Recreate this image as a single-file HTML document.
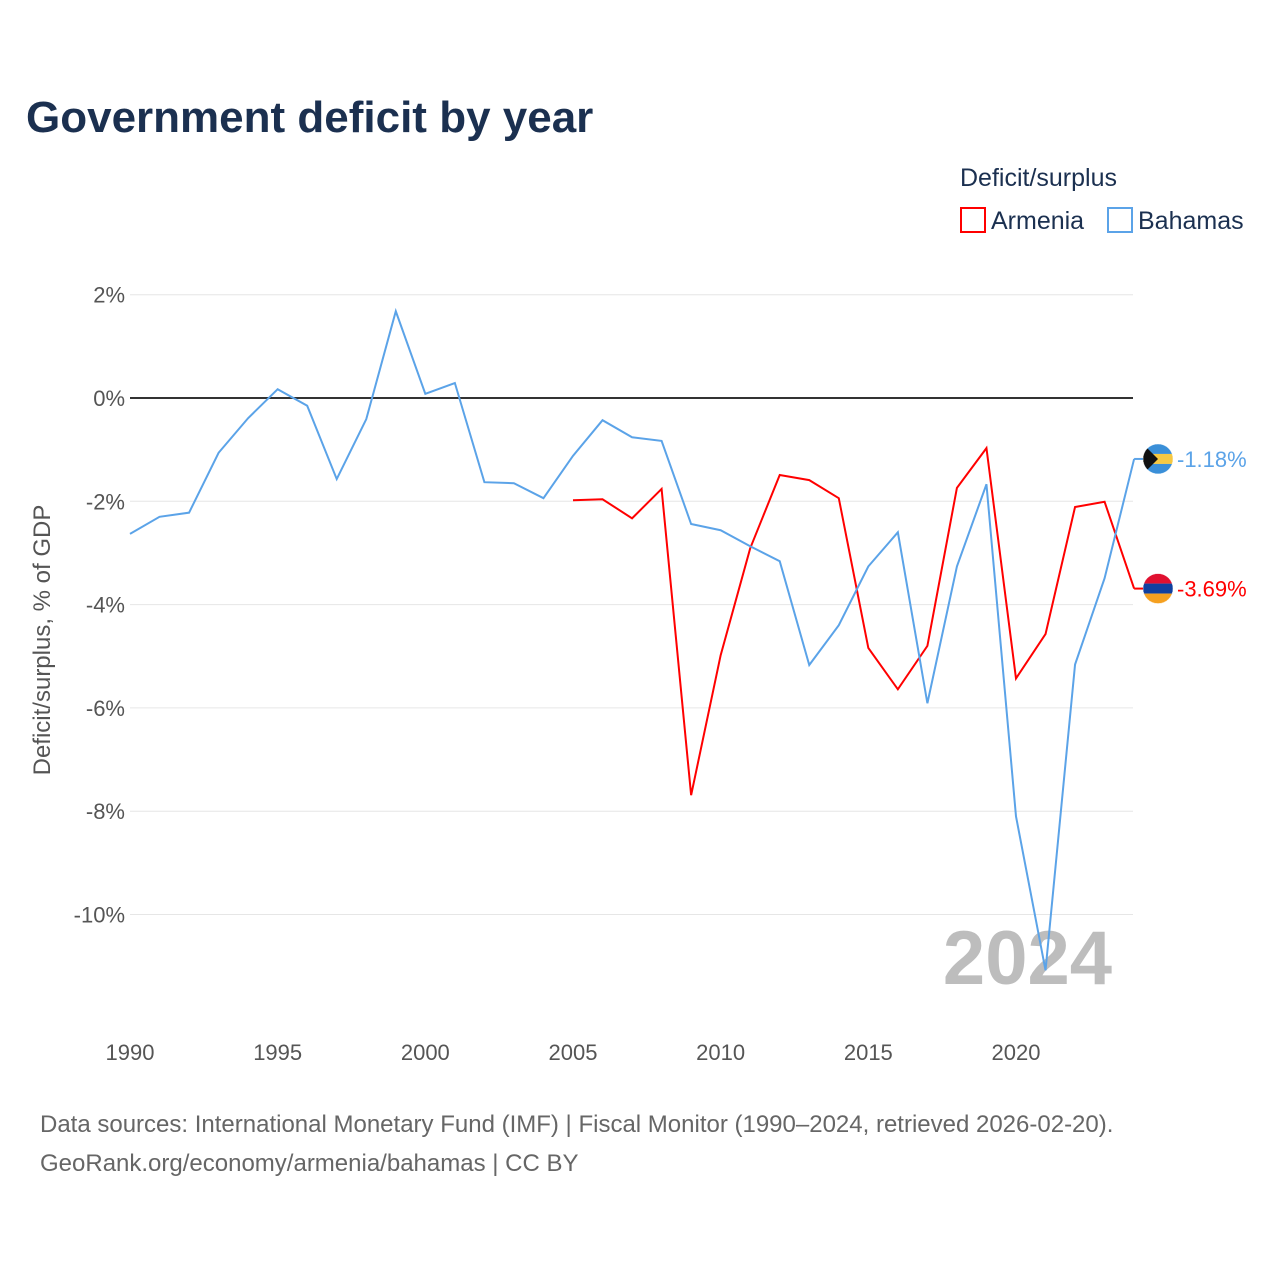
<!DOCTYPE html>
<html><head><meta charset="utf-8">
<style>
body{margin:0;background:#fff;font-family:"Liberation Sans",sans-serif;}
svg text{font-family:"Liberation Sans",sans-serif;}
</style></head>
<body>
<svg id="chart" width="1280" height="1280" viewBox="0 0 1280 1280" xmlns="http://www.w3.org/2000/svg">
<rect width="1280" height="1280" fill="#fff"/>
<text x="26" y="132" font-size="44" font-weight="bold" fill="#1b3050">Government deficit by year</text>
<text x="960" y="186" font-size="25" fill="#1b3050">Deficit/surplus</text>
<g>
<rect x="961" y="208" width="24" height="24" fill="none" stroke="#ff0000" stroke-width="2"/>
<text x="991" y="229" font-size="25" fill="#1b3050">Armenia</text></g>
<g>
<rect x="1108" y="208" width="24" height="24" fill="none" stroke="#5ba3e8" stroke-width="2"/>
<text x="1138" y="229" font-size="25" fill="#1b3050">Bahamas</text></g>
<g id="grid"></g>
<text transform="translate(50,640) rotate(-90)" text-anchor="middle" font-size="24" fill="#555">Deficit/surplus, % of GDP</text>
<text x="1112" y="984" text-anchor="end" font-size="76" font-weight="bold" fill="#bdbdbd">2024</text>
<g id="series"></g>
<text x="40" y="1132" font-size="24" fill="#666">Data sources: International Monetary Fund (IMF) | Fiscal Monitor (1990–2024, retrieved 2026-02-20).</text>
<text x="40" y="1171" font-size="24" fill="#666">GeoRank.org/economy/armenia/bahamas | CC BY</text>
</svg>
<script>
const bahamasYears=[1990,1991,1992,1993,1994,1995,1996,1997,1998,1999,2000,2001,2002,2003,2004,2005,2006,2007,2008,2009,2010,2011,2012,2013,2014,2015,2016,2017,2018,2019,2020,2021,2022,2023,2024];
const bahamasValues=[-2.63,-2.30,-2.22,-1.06,-0.39,0.17,-0.15,-1.57,-0.41,1.68,0.08,0.29,-1.63,-1.65,-1.94,-1.12,-0.43,-0.76,-0.83,-2.44,-2.56,-2.87,-3.16,-5.17,-4.40,-3.26,-2.60,-5.91,-3.26,-1.67,-8.10,-11.08,-5.16,-3.49,-1.18];
const armeniaYears=[2005,2006,2007,2008,2009,2010,2011,2012,2013,2014,2015,2016,2017,2018,2019,2020,2021,2022,2023,2024];
const armeniaValues=[-1.98,-1.96,-2.33,-1.76,-7.69,-4.98,-2.91,-1.49,-1.59,-1.94,-4.84,-5.64,-4.80,-1.74,-0.97,-5.43,-4.57,-2.11,-2.01,-3.69];
const yTicks=[2,0,-2,-4,-6,-8,-10];
const xTicks=[1990,1995,2000,2005,2010,2015,2020];
const NS="http://www.w3.org/2000/svg";
const x=yr=>130+(yr-1990)*29.533;
const y=v=>398-v*51.65;
const grid=document.getElementById('grid'),ser=document.getElementById('series');
function mk(t,a,p){const e=document.createElementNS(NS,t);for(const k in a)e.setAttribute(k,a[k]);p.appendChild(e);return e;}
yTicks.forEach(v=>{
 const l=mk('line',{x1:130,x2:1133,y1:y(v),y2:y(v),stroke:v===0?'#333':'#e6e6e6','stroke-width':v===0?2:1},grid);
 
 
 const t=mk('text',{x:125,y:y(v)+8,'text-anchor':'end','font-size':22,fill:'#555'},grid);
 t.textContent=v+'%';
 
 
});
xTicks.forEach(yr=>{
 const t=mk('text',{x:x(yr),y:1060,'text-anchor':'middle','font-size':22,fill:'#555'},grid);
 t.textContent=yr;
 
 
});
function line(ys,vs,col,name){
 const p=mk('polyline',{points:ys.map((yr,i)=>x(yr)+','+y(vs[i])).join(' '),fill:'none',stroke:col,'stroke-width':2},ser);
 
 
}
line(armeniaYears,armeniaValues,'#ff0000','armenia-line');
line(bahamasYears,bahamasValues,'#5ba3e8','bahamas-line');
function endLabel(v,col,name,flag){
 const ex=x(2024),ey=y(v);
 mk('line',{x1:ex,x2:ex+10,y1:ey,y2:ey,stroke:col,'stroke-width':2},ser);
 const g=mk('g',{},ser);
 
 
 const cx=1158;
 flag.forEach((c,i)=>mk('rect',{x:cx-15,y:ey-15+i*10,width:30,height:10,fill:c},g));
 if(name==='bahamas') mk('polygon',{points:`${cx-15},${ey-15} ${cx},${ey} ${cx-15},${ey+15}`,fill:'#111'},g);
 mk('circle',{cx:cx,cy:ey,r:15,fill:'none',stroke:'#fff','stroke-width':0.5},g);
 const cp=mk('clipPath',{id:'c'+name},g);mk('circle',{cx:cx,cy:ey,r:15},cp);g.setAttribute('clip-path','url(#c'+name+')');
 const t=mk('text',{x:1177,y:ey+8,'font-size':22,fill:col},ser);
 t.textContent=v.toFixed(2)+'%';
 
 
}
endLabel(bahamasValues[bahamasValues.length-1],'#5ba3e8','bahamas',['#3a8fd8','#f5c842','#3a8fd8']);
endLabel(armeniaValues[armeniaValues.length-1],'#ff0000','armenia',['#e01030','#1040a0','#f5a020']);
</script>
</body></html>
